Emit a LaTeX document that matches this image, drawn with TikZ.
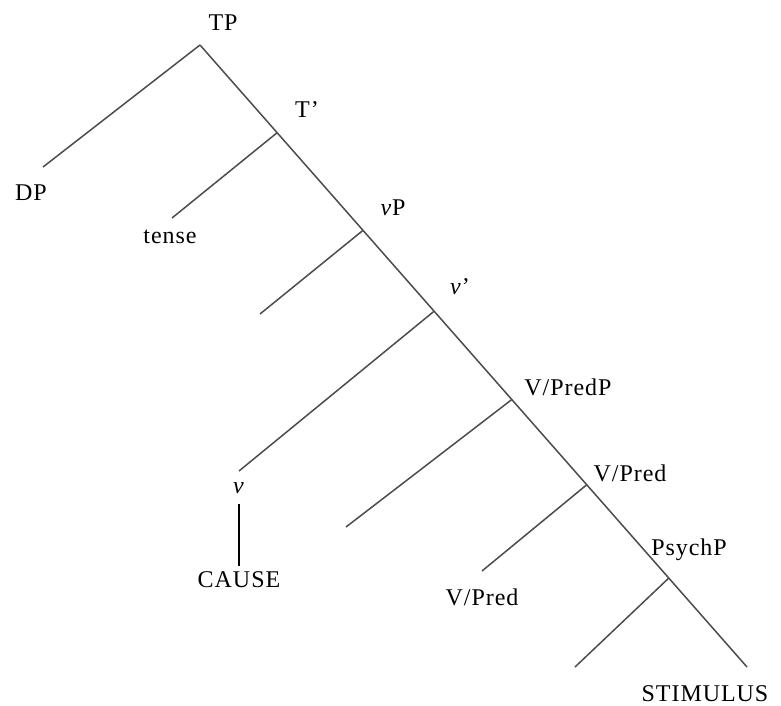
\documentclass[tikz,border=0pt]{standalone}
\usepackage{fontspec}
\setmainfont[LetterSpace=4]{Liberation Serif}
\usetikzlibrary{calc}
\begin{document}
\begin{tikzpicture}[x=1pt, y=-1pt,
        branch/.style={draw=black!70, line width=1.5pt},
        lab/.style={font=\fontsize{24}{26}\selectfont, inner sep=0pt}]
        \useasboundingbox (0,0) rectangle (781,706);

        % spine
        \coordinate (tp) at (200,45);
        \coordinate (stim) at (747,667);
        \coordinate (tbar) at ($(tp)!0.141!(stim)$);
        \coordinate (vp) at ($(tp)!0.298!(stim)$);
        \coordinate (vbar) at ($(tp)!0.428!(stim)$);
        \coordinate (predp) at ($(tp)!0.570!(stim)$);
        \coordinate (pred) at ($(tp)!0.707!(stim)$);
        \coordinate (psychp) at ($(tp)!0.857!(stim)$);

        % left daughters
        \coordinate (dp) at (43,167);
        \coordinate (tense) at (172,218);
        \coordinate (vspec) at (260,314);
        \coordinate (vhead) at (239,471);
        \coordinate (predspec) at (346,527);
        \coordinate (predhead) at (482,571);
        \coordinate (psychspec) at (575,667);

        \draw[branch] (tp) -- (stim);
        \draw[branch] (tp) -- (dp);
        \draw[branch] (tbar) -- (tense);
        \draw[branch] (vp) -- (vspec);
        \draw[branch] (vbar) -- (vhead);
        \draw[branch] (predp) -- (predspec);
        \draw[branch] (pred) -- (predhead);
        \draw[branch] (psychp) -- (psychspec);

        % labels
        \node[lab] (TPlab) at (223,23) {TP};
        \node[lab] (Tbarlab) at (307,110) {T’};
        \node[lab] (DPlab) at (31,193) {DP};
        \node[lab] (tenselab) at (170,237) {tense};
        \node[lab] (vPlab) at (393,208) {\textit{v}P};
        \node[lab] (vbarlab) at (460,287) {\textit{v}’};
        \node[lab] (vlab) at (239,488) {\textit{v}};
        \node[lab] (causelab) at (239,580) {CAUSE};
        \node[lab] (predPlab) at (568,387) {V/PredP};
        \node[lab] (predlab) at (630,473) {V/Pred};
        \node[lab] (predheadlab) at (482,597) {V/Pred};
        \node[lab] (psychlab) at (689,550) {PsychP};
        \node[lab] (stimlab) at (705,694) {STIMULUS};

        \draw[black, line width=1.2pt, shorten <=16pt, shorten >=6pt] (vlab.center) -- (vlab.center |- causelab.north);
    \end{tikzpicture}
\end{document}
